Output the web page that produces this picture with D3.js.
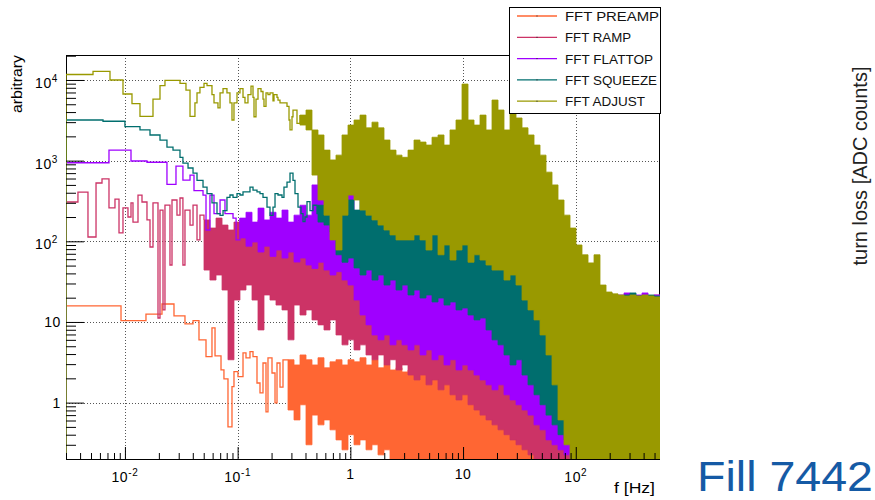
<!DOCTYPE html>
<html>
<head>
<meta charset="utf-8">
<script src="https://cdn.jsdelivr.net/npm/d3@7"></script>
<style>
  body { margin: 0; background: #fff; }
  svg text { font-family: "Liberation Sans", Arial, Helvetica, sans-serif; }
</style>
</head>
<body>
<div id="chart"></div>
<script>
// FFT spectra of the turn loss signal, one histogram per beam mode.
// Low frequencies: individual bins (edge frequency + content).
// High frequencies: the bins are too dense to resolve, so each spectrum is kept
// as an envelope (lower / upper value) read off on a common frequency grid.

// ---- low-frequency bins -------------------------------------------------
const preampF = [0.003, 0.00923, 0.01537, 0.02132, 0.02724, 0.0341, 0.0402, 0.0454, 0.0524, 0.0592, 0.0630, 0.0712, 0.0756, 0.0821, 0.0891, 0.0928, 0.1007, 0.1116, 0.1186, 0.1287, 0.1369, 0.1485, 0.1579, 0.1679, 0.1785, 0.1859, 0.2018, 0.2146, 0.2235, 0.2376, 0.2526];
const preampV = [15.8, 10.4, 12.5, 16.7, 11.9, 9.45, 10.4, 5.98, 3.72, 8.43, 3.79, 2.54, 1.97, 0.50, 1.58, 2.42, 2.10, 4.13, 3.58, 4.29, 3.72, 1.75, 1.32, 3.10, 0.77, 3.58, 2.33, 0.99, 3.10, 1.56, 3.38];

const rampF = [0.003, 0.00383, 0.0047, 0.00554, 0.00626, 0.00722, 0.00816, 0.00886, 0.00961, 0.01064, 0.01132, 0.01179, 0.01306, 0.01417, 0.01569, 0.01669, 0.01774, 0.01965, 0.02047, 0.02177, 0.02266, 0.0251, 0.02616, 0.02896, 0.0308, 0.0327, 0.0341, 0.0378, 0.0402, 0.0436, 0.0463];
const rampV = [307, 408, 113, 528, 593, 259, 334, 127, 259, 200, 299, 173, 374, 307, 184, 85, 299, 11.2, 244, 14.1, 281, 50.8, 325, 211, 344, 50.8, 244, 159, 281, 104, 211];

const flattopF = [0.003, 0.00722, 0.01132, 0.01569, 0.0236, 0.02838, 0.0327, 0.0378, 0.0410, 0.0493, 0.0524, 0.0568, 0.0617, 0.0698, 0.0772, 0.0910, 0.0969];
const flattopV = [942, 1353, 989, 955, 508, 857, 574, 662, 424, 374, 138, 374, 220, 325, 220, 194, 104];

const squeezeF = [0.003, 0.00639, 0.01, 0.0136, 0.01669, 0.02047, 0.0236, 0.0267, 0.0308, 0.0327, 0.0363, 0.0402, 0.0436, 0.0493, 0.0535, 0.0592, 0.0656, 0.0698, 0.0742, 0.0804, 0.0855, 0.0910, 0.0987, 0.1049, 0.1116, 0.1287, 0.1369, 0.1485, 0.1579, 0.1679, 0.1822, 0.1937, 0.2059, 0.2146, 0.2281, 0.2475, 0.2577, 0.2742, 0.2915, 0.3099, 0.3228, 0.3432, 0.3650, 0.3801, 0.3960, 0.4125, 0.4385, 0.4664, 0.5061];
const squeezeV = [3190, 3080, 2640, 2400, 2080, 1800, 1470, 1350, 1100, 930, 810, 700, 570, 470, 390, 300, 220, 210, 240, 350, 375, 350, 390, 375, 410, 470, 430, 410, 390, 350, 265, 210, 265, 390, 375, 350, 470, 540, 700, 570, 390, 265, 220, 175, 200, 310, 240, 280, 220];

const adjustF = [0.003, 0.00521, 0.00737, 0.00961, 0.01155, 0.0136, 0.01774, 0.02047, 0.02266, 0.0308, 0.0348, 0.0378, 0.0418, 0.0436, 0.0463, 0.0503, 0.0535, 0.0592, 0.0617, 0.0669, 0.0698, 0.0742, 0.0804, 0.0855, 0.0891, 0.0928, 0.0987, 0.1049, 0.1116, 0.1162, 0.1235, 0.1314, 0.1369, 0.1397, 0.1455, 0.1516, 0.1612, 0.1679, 0.1713, 0.1785, 0.1859, 0.1937, 0.2059, 0.2102, 0.2235, 0.2281, 0.2376, 0.2742, 0.2856, 0.2915, 0.3036, 0.3099, 0.3362];
const adjustV = [11700, 12800, 10000, 6700, 5100, 3540, 5800, 8500, 9900, 9100, 7500, 3540, 5200, 6900, 8100, 9100, 8500, 6600, 5200, 4500, 6900, 7800, 6900, 5200, 3190, 5200, 6900, 7800, 6100, 5200, 6600, 8400, 6100, 3500, 5800, 7800, 7200, 5800, 4700, 6900, 6600, 6900, 5500, 6600, 6100, 5640, 5200, 4700, 3190, 2400, 3500, 4240, 2900];

// ---- dense region: common frequency grid, envelopes cover its tail ------
const bandFreq = [0.0503, 0.0568, 0.0643, 0.0727, 0.0821, 0.0928, 0.1049, 0.1186, 0.1341, 0.1516, 0.1713, 0.1937, 0.2190, 0.2475, 0.2798, 0.3163,
  0.3576, 0.4042, 0.4567, 0.5164, 0.5837, 0.6599, 0.7459, 0.8434, 0.9533, 1.078, 1.218, 1.377, 1.556, 1.760, 1.989, 2.248, 2.542, 2.873, 3.248, 3.671,
  4.151, 4.692, 5.304, 5.996, 6.776, 7.660, 8.660, 9.79, 11.07, 12.51, 14.14, 15.99, 18.07, 20.43, 23.09, 26.11, 29.51, 33.36, 37.71, 42.63,
  48.19, 54.47, 61.57, 69.60, 78.68, 88.95, 100.5, 113.6, 128.5, 145.2, 164.1, 185.6, 209.8, 237.1, 268.1, 303.0, 342.5, 387.2, 437.7, 494.8, 559];

const preampHi = [3.4, 2.93, 3.9, 3.4, 2.93, 3.6, 2.7, 3.2, 3.4, 2.93,
  3.4, 3.2, 3.6, 2.93, 3.4, 2.7, 2.93, 2.54, 2.7, 2.4,
  2.54, 2.2, 2.4, 2.03, 2.2, 1.91, 2.03, 1.8, 1.66, 1.75,
  1.5, 1.44, 1.25, 1.15, 1.02, 0.94, 0.81, 0.70, 0.61, 0.53,
  0.46, 0.40, 0.345, 0.30, 0.26, 0.245, 0.225, 0.225, 0.225, 0.225,
  0.225, 0.225, 21.0, 21.0, 21.0, 21.0, 21.0, 21.0, 21.0, 21.0,
  21.0, 21.0, 21.0];
const preampLo = [0.81, 0.61, 0.94, 0.30, 0.70, 0.53, 0.61, 0.46, 0.345, 0.26,
  0.40, 0.30, 0.345, 0.26, 0.30, 0.225, 0.26, 0.1, 0.1, 0.1,
  0.1, 0.1, 0.1, 0.1, 0.1, 0.1, 0.1, 0.1, 0.1, 0.1,
  0.1, 0.1, 0.1, 0.1, 0.1, 0.1, 0.1, 0.1, 0.1, 0.1,
  0.1, 0.1, 0.1, 0.1, 0.1, 0.1, 0.1, 0.1, 0.1, 0.1,
  0.1, 0.1, 18.7, 18.7, 18.7, 18.7, 18.7, 18.7, 18.7, 18.7,
  18.7, 18.7, 18.7];

const rampHi = [184, 146, 194, 159, 138, 173, 138, 159, 130, 184,
  146, 173, 184, 138, 159, 146, 130, 159, 120, 138,
  104, 120, 90, 104, 78, 68, 58.6, 50.8, 55, 44,
  46, 38.2, 42, 33.1, 35, 28.7, 31, 24.9, 26.4, 21.6,
  18.7, 19.8, 16.2, 14.1, 12.2, 10.6, 9.2, 7.96, 6.3, 5.2,
  4.5, 3.9, 3.4, 2.7, 2.2, 1.91, 1.44, 1.08, 0.81, 0.61,
  0.53, 0.46, 0.345, 0.345, 0.30, 0.30, 21.0, 21.6, 21.0, 21.0,
  21.0, 21.6, 21.0, 21.0, 21.0, 21.6, 21.0];
const rampLo = [44, 33.1, 38.2, 24.9, 3.4, 18.7, 24.9, 28.7, 18.7, 7.96,
  21.6, 18.7, 16.2, 14.1, 6.0, 16.2, 12.2, 14.1, 10.6, 9.2,
  7.96, 10.6, 6.9, 5.2, 6.0, 4.5, 5.2, 3.9, 3.4, 3.9,
  2.93, 3.4, 2.54, 2.93, 2.2, 1.91, 2.2, 1.66, 1.91, 1.44,
  1.66, 1.25, 1.08, 1.25, 0.94, 0.81, 0.70, 0.61, 0.53, 0.46,
  0.40, 0.345, 0.30, 0.26, 0.225, 0.1, 0.1, 0.1, 0.1, 0.1,
  0.1, 0.1, 0.1, 0.1, 0.1, 0.1, 18.7, 18.7, 18.7, 18.7,
  18.7, 18.7, 18.7, 18.7, 18.7, 18.7, 18.7];

const flattopHi = [194, 229, 173, 258, 184, 229, 194, 244, 173, 211,
  280, 211, 500, 880, 280, 325, 244, 280, 765, 138,
  104, 90, 104, 90, 78, 90, 78, 68, 78, 68,
  90, 68, 325, 68, 58.6, 68, 58.6, 68, 50.8, 58.6,
  50.8, 44, 50.8, 44, 38.2, 44, 33.1, 28.7, 24.9, 18.7,
  16.2, 10.6, 7.96, 6.0, 4.5, 3.4, 2.54, 1.91, 1.44, 1.25,
  21.0, 22.9, 21.0, 21.6, 22.9, 21.0, 21.6, 22.9, 21.0, 21.6,
  21.0];
const flattopLo = [110, 87, 98, 73.6, 87, 65, 78, 62, 73.6, 55.3,
  62, 50.8, 46, 55, 44, 38.2, 42, 33.1, 28.7, 18.7,
  12.2, 9.2, 6.9, 6.0, 6.9, 5.2, 6.0, 5.2, 4.5, 5.2,
  3.9, 4.5, 3.4, 3.9, 2.93, 3.4, 2.54, 2.93, 2.54, 2.2,
  1.91, 1.66, 1.44, 1.66, 1.25, 1.08, 0.94, 0.81, 0.70, 0.53,
  0.46, 0.345, 0.30, 0.26, 0.225, 0.1, 0.1, 0.1, 0.1, 0.1,
  18.7, 18.7, 18.7, 18.7, 18.7, 18.7, 18.7, 18.7, 18.7, 18.7,
  18.7];

const squeezeHi = [280, 258, 325, 345, 280, 325, 244, 345, 280, 325,
  280, 244, 280, 244, 325, 280, 211, 280, 244, 325,
  244, 280, 325, 244, 375, 280, 244, 280, 211, 184,
  159, 184, 159, 184, 120, 104, 78, 68, 50.8, 38.2,
  28.7, 24.9, 21.6, 18.7, 18.7, 18.7, 21.6, 21.0, 22.9, 21.0,
  21.0, 21.6, 22.9, 21.0, 21.0, 21.6, 21.0, 21.0];
const squeezeLo = [173, 159, 130, 68, 55, 62, 46.7, 38.2, 44, 33.1,
  38.2, 28.7, 33.1, 24.9, 28.7, 21.6, 24.9, 19.8, 21.6, 17.7,
  19.8, 16.2, 17.7, 14.1, 14.9, 12.2, 10.6, 11.2, 7.96, 6.0,
  5.2, 3.9, 2.93, 3.4, 2.2, 1.66, 1.25, 0.94, 0.70, 0.53,
  0.40, 0.345, 0.30, 0.26, 0.225, 0.26, 0.30, 18.7, 18.7, 18.7,
  18.7, 18.7, 18.7, 18.7, 18.7, 18.7, 18.7, 18.7];

const adjustHi = [3670, 4240, 2400, 2080, 1350, 1020, 1170, 2080, 2760, 3190,
  3670, 2550, 3000, 2550, 1800, 1350, 1170, 1100, 1350, 1800,
  1700, 1560, 1950, 2080, 1560, 2400, 3190, 8900, 3190, 2760,
  3670, 2400, 5640, 4240, 2400, 4240, 3380, 2550, 2080, 1560,
  1170, 720, 500, 325, 211, 146, 90, 68, 54, 68,
  28.7, 23.5, 22.3, 21.6, 21.0, 21.6, 21.0, 21.6, 21.0, 20.4,
  20.4];
const adjustLo = [2760, 2400, 662, 325, 211, 104, 78, 211, 374, 325,
  244, 211, 184, 159, 138, 120, 104, 104, 104, 120,
  104, 78, 120, 68, 90, 58.6, 78, 90, 55, 68,
  58.6, 50.8, 44, 44, 33.1, 38.2, 28.7, 18.7, 14.1, 10.6,
  6.9, 3.9, 1.66, 0.61, 0.3, 0.1, 0.1, 0.1, 0.1, 0.1,
  0.1, 0.1, 0.1, 0.1, 0.1, 0.1, 0.1, 0.1, 0.1, 0.1,
  0.1];

const seriesNames = ["FFT PREAMP", "FFT RAMP", "FFT FLATTOP", "FFT SQUEEZE", "FFT ADJUST"];
const seriesColors = ["#ff6633", "#cc3366", "#9f00ff", "#006e6e", "#999900"];

const xMajor = [0.01, 0.1, 1, 10, 100];
const xTickBase = ["10", "10", "1", "10", "10"];
const xTickExp = ["-2", "-1", "", "", "2"];
const yMajor = [1, 10, 100, 1000, 10000];
const yTickBase = ["1", "10", "10", "10", "10"];
const yTickExp = ["", "", "2", "3", "4"];

// ---- layout -------------------------------------------------------------
const width = 875, height = 500;
const margin = ({ top: 55, right: 215, bottom: 41, left: 66 });
const plotW = width - margin.left - margin.right;   // 594
const plotH = height - margin.top - margin.bottom;  // 404

const x = d3.scaleLog().domain([0.003, 559]).range([margin.left, margin.left + plotW]);
const y = d3.scaleLog().domain([0.2, 20400]).range([margin.top + plotH, margin.top]).clamp(true);

const svg = d3.select("#chart").append("svg")
    .attr("width", width)
    .attr("height", height);

svg.append("defs").append("clipPath").attr("id", "plotClip")
  .append("rect")
    .attr("x", margin.left).attr("y", margin.top)
    .attr("width", plotW).attr("height", plotH);

// dotted grid at the decades
const grid = svg.append("g")
    .attr("stroke", "#555")
    .attr("stroke-width", 1)
    .attr("stroke-dasharray", "1,2");
grid.selectAll(".gx").data(xMajor).enter().append("line")
    .attr("x1", d => Math.round(x(d)) + 0.5).attr("x2", d => Math.round(x(d)) + 0.5)
    .attr("y1", margin.top).attr("y2", margin.top + plotH);
grid.selectAll(".gy").data(yMajor).enter().append("line")
    .attr("y1", d => Math.round(y(d)) + 0.5).attr("y2", d => Math.round(y(d)) + 0.5)
    .attr("x1", margin.left).attr("x2", margin.left + plotW);

// frame
svg.append("rect")
    .attr("x", margin.left + 0.5).attr("y", margin.top + 0.5)
    .attr("width", plotW - 1).attr("height", plotH)
    .attr("fill", "none").attr("stroke", "#000").attr("stroke-width", 1);

// spectra, drawn as histograms (steps)
const stepLine = d3.line().x(d => x(d[0])).y(d => y(d[1])).curve(d3.curveStepAfter);
const bandArea = d3.area().x(d => x(d[0])).y0(d => y(d[1])).y1(d => y(d[2])).curve(d3.curveStepAfter);

const series = [
  { f: preampF, v: preampV, hi: preampHi, lo: preampLo },
  { f: rampF, v: rampV, hi: rampHi, lo: rampLo },
  { f: flattopF, v: flattopV, hi: flattopHi, lo: flattopLo },
  { f: squeezeF, v: squeezeV, hi: squeezeHi, lo: squeezeLo },
  { f: adjustF, v: adjustV, hi: adjustHi, lo: adjustLo }
];

const plot = svg.append("g").attr("clip-path", "url(#plotClip)");
series.forEach((s, k) => {
  const off = bandFreq.length - s.hi.length;
  const band = s.hi.map((h, i) => [bandFreq[off + i], s.lo[i], h]);
  const steps = [[s.f[0], 0.1]]
      .concat(s.f.map((f, i) => [f, s.v[i]]))
      .concat([[band[0][0], band[0][2]]]);
  plot.append("path")
      .attr("d", bandArea(band))
      .attr("fill", seriesColors[k])
      .attr("stroke", seriesColors[k])
      .attr("stroke-width", 0.8);
  plot.append("path")
      .attr("d", stepLine(steps))
      .attr("fill", "none")
      .attr("stroke", seriesColors[k])
      .attr("stroke-width", 1.3);
});

// ticks (ROOT style: pointing into the frame)
const isDecade = t => Math.abs(Math.log10(t) - Math.round(Math.log10(t))) < 1e-6;
const xMinor = x.ticks().filter(t => !isDecade(t));
const yMinor = y.ticks().filter(t => !isDecade(t));

const tickStyle = g => g.call(g => g.select(".domain").remove())
    .selectAll("line").attr("stroke", "#000");

svg.append("g").attr("transform", `translate(0,${margin.top + plotH})`)
    .call(d3.axisBottom(x).tickValues(xMinor).tickSize(-6).tickFormat(""))
    .call(tickStyle);
svg.append("g").attr("transform", `translate(0,${margin.top + plotH})`)
    .call(d3.axisBottom(x).tickValues(xMajor).tickSize(-12).tickFormat(""))
    .call(tickStyle);
svg.append("g").attr("transform", `translate(${margin.left},0)`)
    .call(d3.axisRight(y).tickValues(yMinor).tickSize(10).tickFormat(""))
    .call(tickStyle);
svg.append("g").attr("transform", `translate(${margin.left},0)`)
    .call(d3.axisRight(y).tickValues(yMajor).tickSize(18).tickFormat(""))
    .call(tickStyle);

// tick labels with superscripts
function powerLabel(sel, base, exp) {
  sel.append("tspan").text(base);
  if (exp) sel.append("tspan").attr("dy", -6).attr("font-size", 10).text(exp);
}
xMajor.forEach((t, i) => {
  const txt = svg.append("text")
      .attr("x", x(t))
      .attr("y", xTickExp[i] ? 482 : 479)
      .attr("text-anchor", "middle")
      .attr("font-size", 14)
      .attr("letter-spacing", 0.6)
      .attr("fill", "#000");
  powerLabel(txt, xTickBase[i], xTickExp[i]);
});
yMajor.forEach((t, i) => {
  const txt = svg.append("text")
      .attr("x", yTickExp[i] ? 58 : 61)
      .attr("y", y(t) + (yTickExp[i] ? 8 : 5))
      .attr("text-anchor", "end")
      .attr("font-size", 14)
      .attr("letter-spacing", 0.6)
      .attr("fill", "#000");
  powerLabel(txt, yTickBase[i], yTickExp[i]);
});

// axis titles
svg.append("text")
    .attr("transform", `translate(22,${margin.top}) rotate(-90)`)
    .attr("text-anchor", "end")
    .attr("font-size", 14)
    .attr("textLength", 58)
    .attr("lengthAdjust", "spacingAndGlyphs")
    .text("arbitrary");
svg.append("text")
    .attr("x", 655)
    .attr("y", 493)
    .attr("text-anchor", "end")
    .attr("font-size", 14)
    .attr("textLength", 41)
    .attr("lengthAdjust", "spacingAndGlyphs")
    .text("f [Hz]");

// legend
const legendWidths = [94, 66, 88, 92, 80];
const legend = svg.append("g");
legend.append("rect")
    .attr("x", 509.5).attr("y", 7.5)
    .attr("width", 151).attr("height", 106)
    .attr("fill", "#fff").attr("stroke", "#000").attr("stroke-width", 1);
seriesNames.forEach((name, i) => {
  const cy = 16 + i * 21.3;
  legend.append("line")
      .attr("x1", 517).attr("x2", 557)
      .attr("y1", cy).attr("y2", cy)
      .attr("stroke", seriesColors[i]).attr("stroke-width", 1.3);
  legend.append("rect")
      .attr("x", 536.5).attr("y", cy - 0.5).attr("width", 1).attr("height", 1)
      .attr("fill", "#222");
  legend.append("text")
      .attr("x", 565).attr("y", cy + 5)
      .attr("font-size", 13.5)
      .attr("textLength", legendWidths[i])
      .attr("lengthAdjust", "spacingAndGlyphs")
      .attr("fill", "#111")
      .text(name);
});

// right-hand annotations of the original slide
svg.append("text")
    .attr("transform", "translate(867,166) rotate(-90)")
    .attr("text-anchor", "middle")
    .attr("font-size", 20)
    .attr("fill", "#222")
    .text("turn loss [ADC counts]");
svg.append("text")
    .attr("x", 873).attr("y", 491)
    .attr("text-anchor", "end")
    .attr("font-size", 42)
    .attr("textLength", 176)
    .attr("lengthAdjust", "spacingAndGlyphs")
    .attr("fill", "#155aa5")
    .text("Fill 7442");
</script>
</body>
</html>
